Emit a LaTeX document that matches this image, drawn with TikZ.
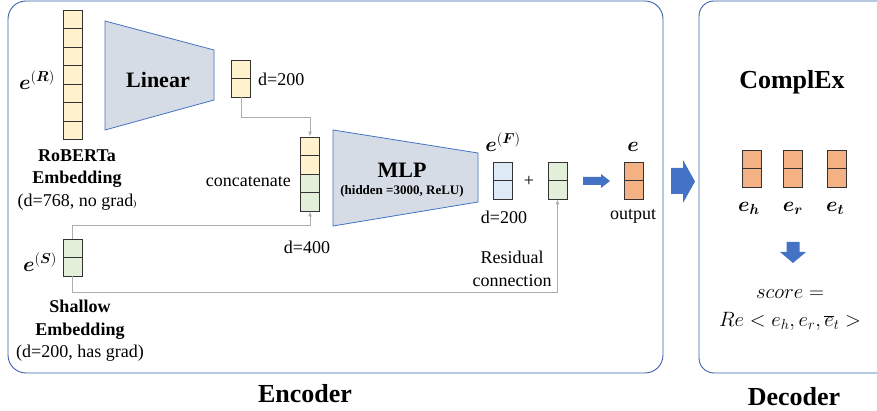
\documentclass[tikz,border=0pt]{standalone}
\usepackage{bm}
\usepackage{fontspec}
\setmainfont{Liberation Serif}
\usetikzlibrary{arrows.meta}
\definecolor{vecyellow}{HTML}{FFF2CC}
\definecolor{vecgreen}{HTML}{E2F0D9}
\definecolor{vecblue}{HTML}{DEEBF7}
\definecolor{vecorange}{HTML}{F4B183}
\definecolor{trapfill}{HTML}{D6DCE5}
\definecolor{trapline}{HTML}{4472C4}
\definecolor{boxline}{HTML}{3A62A7}
\definecolor{arrowblue}{HTML}{4472C4}
\definecolor{connline}{HTML}{ADADAD}
\begin{document}
\begin{tikzpicture}[x=1pt,y=-1pt,
  cell/.style={draw=black!80, line width=0.8pt, minimum width=19pt, minimum height=18.5pt, inner sep=0pt},
  trap/.style={fill=trapfill, draw=trapline, line width=0.8pt},
  conn/.style={draw=connline, line width=0.9pt, -{Latex[length=5pt,width=4pt]}},
  panel/.style={draw=boxline, line width=0.9pt, rounded corners=18pt},
  txt/.style={font=\rmfamily\fontsize{18}{22.5}\selectfont, inner sep=0pt, align=center},
  big/.style={font=\rmfamily\fontsize{26}{30}\selectfont\bfseries, inner sep=0pt},
  sym/.style={font=\fontsize{22}{26}\selectfont, inner sep=0pt}]
\useasboundingbox (0,0) rectangle (877,411);
\clip (0,0) rectangle (877,411);

\draw[panel] (8,1) rectangle (663,373);
\draw[panel, rounded corners=15pt] (699,1) rectangle (900,373);

% encoder
\foreach \i in {0,...,6}
  \node[cell, fill=vecyellow] (rob\i) at (72.5,19.25+18.5*\i) {};
\node[sym] (eR) at (37,80) {$\bm{e}^{(\bm{R})}$};
\node[txt] (robtext) at (77,180) {\textbf{RoBERTa}\\\textbf{Embedding}\\(d=768, no grad{\small)}};

\filldraw[trap] (105,21) -- (214,50) -- (214,100) -- (105,130) -- cycle;
\node[txt, font=\rmfamily\fontsize{22}{26}\selectfont\bfseries] (linear) at (158,80) {Linear};

\foreach \i in {0,1}
  \node[cell, fill=vecyellow] (lin\i) at (241,69.25+18.5*\i) {};
\node[txt, anchor=west] (lindim) at (258,79) {d=200};

\foreach \i in {0,1}
  \node[cell, fill=vecyellow] (cat\i) at (310,146.25+18.5*\i) {};
\foreach \i in {2,3}
  \node[cell, fill=vecgreen] (cat\i) at (310,146.25+18.5*\i) {};
\node[txt, anchor=east] (cattext) at (291,182) {concatenate};
\node[txt] (catdim) at (307,247) {d=400};

\foreach \i in {0,1}
  \node[cell, fill=vecgreen] (sh\i) at (72.5,248.25+18.5*\i) {};
\node[sym] (eS) at (40,262) {$\bm{e}^{(\bm{S})}$};
\node[txt] (shtext) at (80,331) {\textbf{Shallow}\\\textbf{Embedding}\\(d=200, has grad)};

\filldraw[trap] (333,130) -- (478,153) -- (478,202) -- (333,226) -- cycle;
\node[txt, font=\rmfamily\fontsize{22}{26}\selectfont\bfseries] (mlp) at (402,170) {MLP};
\node[txt, font=\rmfamily\fontsize{13}{15}\selectfont\bfseries] (mlpinfo) at (402,191) {(hidden =3000, ReLU)};

\foreach \i in {0,1}
  \node[cell, fill=vecblue] (ef\i) at (502.5,171.25+18.5*\i) {};
\node[sym] (eF) at (503,142) {$\bm{e}^{(\bm{F})}$};
\node[txt] (efdim) at (504,217) {d=200};
\node[txt] (plus) at (529,181) {+};

\foreach \i in {0,1}
  \node[cell, fill=vecgreen] (res\i) at (557.5,171.25+18.5*\i) {};
\node[txt] (restext) at (512,269) {Residual\\connection};

\foreach \i in {0,1}
  \node[cell, fill=vecorange] (out\i) at (633.5,171.25+18.5*\i) {};
\node[sym] (e) at (633,147) {$\bm{e}$};
\node[txt] (outtext) at (633,216) {output};

\draw[conn] (lin1.south) -- ++(0,20) -| (cat0.north);
\draw[conn] (sh0.north) -- ++(0,-13) -| (cat3.south);
\draw[conn] (sh1.south) -- ++(0,16) -| (res1.south);

\fill[arrowblue] (583,177) -- (601,177) -- (601,174) -- (610,181) -- (601,188) -- (601,185) -- (583,185) -- cycle;
\fill[arrowblue] (671,168) -- (683,168) -- (683,160) -- (695,181.5) -- (683,203) -- (683,194) -- (671,194) -- cycle;

\node[big] (enc) at (305,394) {Encoder};

% decoder
\node[big] (complex) at (792,82) {ComplEx};
\foreach \name/\x in {eh/751.5, er/792.5, et/836.5}
  \foreach \i in {0,1}
    \node[cell, fill=vecorange] (\name\i) at (\x,159.25+18.5*\i) {};
\node[sym, font=\fontsize{20}{24}\selectfont] (ehlab) at (749,208) {$\bm{e_h}$};
\node[sym, font=\fontsize{20}{24}\selectfont] (erlab) at (793,208) {$\bm{e_r}$};
\node[sym, font=\fontsize{20}{24}\selectfont] (etlab) at (835,208) {$\bm{e_t}$};

\fill[arrowblue] (786.5,242) -- (799.5,242) -- (799.5,252) -- (806,252) -- (793,263) -- (780,252) -- (786.5,252) -- cycle;

\node[txt, font=\fontsize{20}{28}\selectfont] (score) at (790,310) {$score =$\\$Re < e_h, e_r, \overline{e}_t >$};

\node[big] (dec) at (794,397) {Decoder};
\end{tikzpicture}
\end{document}
